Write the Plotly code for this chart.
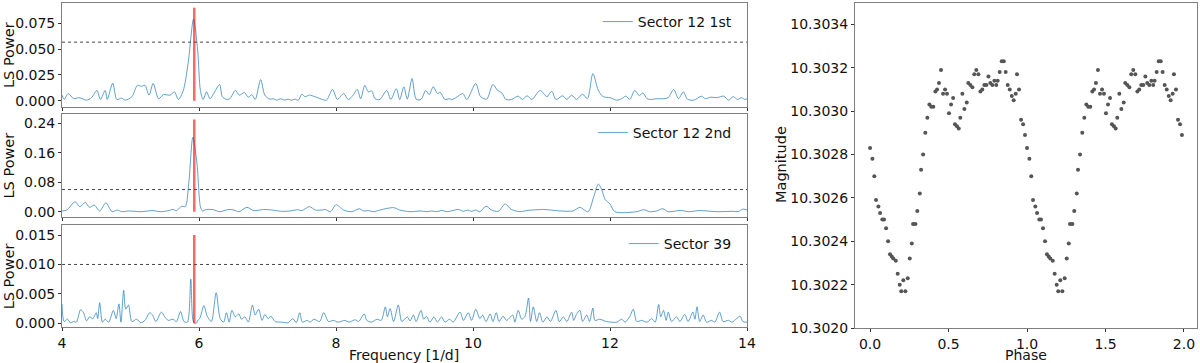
import plotly.graph_objects as go

# periodogram peaks/troughs: (frequency [1/d], LS power)
s12_1st = [
    (4.00, 0.0055), (4.03, 0.0013), (4.09, 0.007), (4.17, 0.002), (4.24, 0.003), (4.30, 0.002),
    (4.36, 0.0006), (4.43, 0.003), (4.51, 0.010), (4.56, 0.0013), (4.63, 0.010), (4.66, 0.0013),
    (4.74, 0.017), (4.80, 0.0013), (4.87, 0.0026), (4.92, 0.0006), (5.02, 0.004), (5.10, 0.015),
    (5.16, 0.014), (5.21, 0.015), (5.27, 0.0055), (5.33, 0.0167), (5.41, 0.002), (5.48, 0.006),
    (5.58, 0.0055), (5.64, 0.0087), (5.70, 0.0013), (5.77, 0.010), (5.84, 0.036), (5.92, 0.079),
    (5.98, 0.049), (6.02, 0.010), (6.06, 0.0013), (6.11, 0.0087), (6.16, 0.002), (6.22, 0.0077),
    (6.30, 0.0157), (6.34, 0.004), (6.40, 0.0013), (6.45, 0.002), (6.53, 0.010), (6.59, 0.0055),
    (6.66, 0.008), (6.72, 0.0035), (6.77, 0.006), (6.82, 0.0013), (6.90, 0.0205), (6.96, 0.0055),
    (7.03, 0.0016), (7.09, 0.002), (7.13, 0.0006), (7.19, 0.002), (7.25, 0.0006), (7.30, 0.0016),
    (7.35, 0.0006), (7.40, 0.0016), (7.45, 0.0006), (7.50, 0.0064), (7.55, 0.004), (7.61, 0.0055),
    (7.69, 0.004), (7.79, 0.0016), (7.86, 0.0006), (7.95, 0.011), (8.02, 0.0013), (8.11, 0.007),
    (8.18, 0.0013), (8.25, 0.0055), (8.31, 0.011), (8.36, 0.002), (8.42, 0.015), (8.47, 0.0087),
    (8.52, 0.0096), (8.57, 0.002), (8.64, 0.0013), (8.74, 0.010), (8.80, 0.0013), (8.88, 0.0116),
    (8.93, 0.0013), (8.99, 0.0135), (9.04, 0.0016), (9.11, 0.0215), (9.17, 0.0016), (9.24, 0.0013),
    (9.31, 0.010), (9.36, 0.006), (9.42, 0.0135), (9.48, 0.007), (9.52, 0.0083), (9.59, 0.0013),
    (9.65, 0.002), (9.70, 0.0013), (9.75, 0.003), (9.85, 0.007), (9.91, 0.0013), (10.04, 0.0167),
    (10.11, 0.004), (10.20, 0.0016), (10.29, 0.0157), (10.36, 0.010), (10.42, 0.0077), (10.48, 0.0013),
    (10.56, 0.0013), (10.66, 0.0045), (10.72, 0.0013), (10.79, 0.0048), (10.86, 0.0013), (10.98, 0.010),
    (11.08, 0.004), (11.15, 0.0093), (11.21, 0.0013), (11.31, 0.0048), (11.37, 0.0013), (11.44, 0.0055),
    (11.51, 0.0013), (11.60, 0.0064), (11.67, 0.002), (11.75, 0.0263), (11.83, 0.010), (11.90, 0.004),
    (12.00, 0.003), (12.10, 0.0006), (12.17, 0.002), (12.23, 0.0045), (12.29, 0.0013), (12.36, 0.010),
    (12.43, 0.005), (12.48, 0.0077), (12.54, 0.002), (12.59, 0.0013), (12.68, 0.002), (12.78, 0.002),
    (12.85, 0.003), (12.93, 0.011), (13.00, 0.002), (13.07, 0.0087), (13.13, 0.0016), (13.22, 0.0006),
    (13.34, 0.0045), (13.39, 0.002), (13.47, 0.0035), (13.56, 0.003), (13.66, 0.0045), (13.73, 0.0006),
    (13.80, 0.004), (13.86, 0.0013), (13.92, 0.003), (13.97, 0.0013), (14.00, 0.002),
]

s12_2nd = [
    (4.00, 0.002), (4.07, 0.0045), (4.19, 0.027), (4.26, 0.0136), (4.34, 0.025), (4.40, 0.0118),
    (4.47, 0.018), (4.55, 0.002), (4.64, 0.024), (4.73, 0.0), (4.81, 0.0045), (4.87, 0.0),
    (4.97, 0.002), (5.14, 0.0), (5.33, 0.003), (5.43, 0.0), (5.53, 0.002), (5.62, 0.006),
    (5.67, 0.003), (5.75, 0.015), (5.80, 0.0136), (5.85, 0.077), (5.91, 0.202), (5.97, 0.131),
    (6.02, 0.0136), (6.05, 0.002), (6.11, 0.006), (6.21, 0.0054), (6.30, 0.0), (6.43, 0.006),
    (6.51, 0.0045), (6.58, 0.0), (6.70, 0.0118), (6.80, 0.003), (6.94, 0.006), (7.07, 0.0045),
    (7.19, 0.001), (7.33, 0.002), (7.44, 0.0054), (7.50, 0.003), (7.61, 0.0136), (7.70, 0.0045),
    (7.79, 0.0045), (7.84, 0.006), (7.92, 0.0), (8.00, 0.019), (8.11, 0.0045), (8.23, 0.0),
    (8.34, 0.008), (8.40, 0.002), (8.47, 0.003), (8.55, 0.0), (8.64, 0.0045), (8.84, 0.011),
    (8.93, 0.0045), (9.08, 0.0), (9.23, 0.002), (9.32, 0.0), (9.40, 0.002), (9.47, 0.0),
    (9.54, 0.0036), (9.62, 0.0), (9.79, 0.006), (9.86, 0.001), (9.92, 0.0045), (9.98, 0.001),
    (10.04, 0.0045), (10.10, 0.0), (10.19, 0.015), (10.27, 0.0045), (10.37, 0.001), (10.47, 0.021),
    (10.56, 0.006), (10.69, 0.0), (10.78, 0.003), (11.03, 0.006), (11.27, 0.002), (11.46, 0.002),
    (11.56, 0.0118), (11.68, 0.0), (11.76, 0.039), (11.83, 0.075), (11.88, 0.059), (11.93, 0.033),
    (12.00, 0.021), (12.07, 0.0), (12.39, 0.0), (12.49, 0.0054), (12.58, 0.0), (12.68, 0.002),
    (12.77, 0.008), (12.85, 0.0), (13.04, 0.0036), (13.14, 0.0), (13.31, 0.003), (13.56, 0.0),
    (13.80, 0.001), (13.87, 0.0), (13.94, 0.007), (14.00, 0.0045),
]

s39 = [
    (4.00, 0.0033), (4.03, 0.0003), (4.08, 0.0007), (4.12, 0.0001), (4.17, 0.0003), (4.21, 0.0002),
    (4.27, 0.0023), (4.31, 0.0019), (4.36, 0.0004), (4.40, 0.0011), (4.45, 0.0008), (4.50, 0.0018),
    (4.52, 0.0008), (4.55, 0.0035), (4.59, 0.0002), (4.63, 0.0007), (4.68, 0.0002), (4.75, 0.0022),
    (4.79, 0.0008), (4.83, 0.0033), (4.86, 0.0002), (4.90, 0.0056), (4.93, 0.0024), (4.97, 0.0031),
    (5.02, 0.0003), (5.09, 0.0007), (5.15, 0.0001), (5.21, 0.0005), (5.28, 0.0018), (5.32, 0.0014),
    (5.37, 0.0003), (5.45, 0.0019), (5.50, 0.0011), (5.55, 0.0005), (5.62, 0.0007), (5.67, 0.0003),
    (5.73, 0.002), (5.78, 0.0003), (5.83, 0.0002), (5.88, 0.0075), (5.92, 0.0002), (5.96, 0.0),
    (5.98, 0.0005), (6.01, 0.0008), (6.07, 0.003), (6.12, 0.0012), (6.18, 0.0003), (6.25, 0.0052),
    (6.31, 0.0008), (6.36, 0.0002), (6.40, 0.0018), (6.44, 0.0002), (6.48, 0.0022), (6.53, 0.0011),
    (6.58, 0.0016), (6.62, 0.0007), (6.67, 0.0011), (6.72, 0.0002), (6.78, 0.0031), (6.82, 0.0014),
    (6.87, 0.0024), (6.92, 0.0005), (6.96, 0.0015), (7.01, 0.0008), (7.05, 0.0012), (7.11, 0.0003),
    (7.21, 0.0002), (7.30, 0.0001), (7.37, 0.0008), (7.42, 0.0001), (7.47, 0.0018), (7.51, 0.0002),
    (7.58, 0.0005), (7.62, 0.0002), (7.68, 0.0007), (7.76, 0.0003), (7.82, 0.0018), (7.89, 0.0003),
    (7.96, 0.0005), (8.03, 0.0002), (8.13, 0.0005), (8.19, 0.0002), (8.28, 0.0006), (8.33, 0.0003),
    (8.41, 0.0016), (8.45, 0.0005), (8.52, 0.0002), (8.60, 0.0007), (8.66, 0.0005), (8.72, 0.0028),
    (8.75, 0.0011), (8.79, 0.0025), (8.84, 0.0003), (8.91, 0.0031), (8.96, 0.0003), (9.04, 0.0011),
    (9.08, 0.0004), (9.13, 0.0014), (9.17, 0.0003), (9.24, 0.0022), (9.28, 0.0007), (9.32, 0.0012),
    (9.37, 0.0002), (9.43, 0.0011), (9.48, 0.0002), (9.54, 0.0011), (9.59, 0.0002), (9.66, 0.0007),
    (9.71, 0.0002), (9.81, 0.0019), (9.86, 0.0005), (9.93, 0.0018), (9.98, 0.0005), (10.04, 0.0024),
    (10.10, 0.0008), (10.14, 0.0014), (10.19, 0.0003), (10.25, 0.0016), (10.29, 0.0003), (10.34, 0.0018),
    (10.38, 0.0003), (10.44, 0.0012), (10.49, 0.0005), (10.58, 0.0014), (10.61, 0.0002), (10.66, 0.0022),
    (10.71, 0.0007), (10.76, 0.0012), (10.81, 0.0043), (10.84, 0.0003), (10.88, 0.0028), (10.93, 0.0003),
    (10.97, 0.0018), (11.02, 0.0002), (11.08, 0.0011), (11.13, 0.0003), (11.21, 0.0022), (11.26, 0.0003),
    (11.32, 0.0011), (11.37, 0.0003), (11.44, 0.0019), (11.47, 0.0005), (11.51, 0.0015), (11.56, 0.0022),
    (11.60, 0.0003), (11.66, 0.0014), (11.70, 0.0003), (11.75, 0.0026), (11.78, 0.0005), (11.85, 0.0007),
    (11.95, 0.0003), (12.10, 0.0002), (12.17, 0.0007), (12.22, 0.0002), (12.29, 0.0012), (12.34, 0.0024),
    (12.39, 0.0003), (12.46, 0.0005), (12.54, 0.0002), (12.61, 0.0008), (12.66, 0.0002), (12.71, 0.0032),
    (12.74, 0.0011), (12.78, 0.0022), (12.82, 0.0005), (12.85, 0.0019), (12.90, 0.0003), (12.97, 0.0011),
    (13.02, 0.0003), (13.09, 0.0015), (13.14, 0.0003), (13.21, 0.0019), (13.24, 0.0007), (13.27, 0.0028),
    (13.31, 0.0003), (13.36, 0.0014), (13.41, 0.0002), (13.48, 0.0005), (13.53, 0.0002), (13.60, 0.0019),
    (13.65, 0.0003), (13.73, 0.0005), (13.78, 0.0002), (13.85, 0.0008), (13.90, 0.0012), (13.94, 0.0003),
    (14.00, 0.0002),
]

sector_names = ["Sector 12 1st", "Sector 12 2nd", "Sector 39"]
fap_levels = [0.0567, 0.060, 0.010]
best_freq = 5.93
marker_tops = [0.090, 0.250, 0.015]

# folded light curve, one cycle (phase, magnitude); drawn twice
phase_mag = [
    (0.000, 10.30283), (0.015, 10.30278), (0.027, 10.30270), (0.038, 10.30259), (0.053, 10.30256),
    (0.064, 10.30253), (0.078, 10.30250), (0.089, 10.30250), (0.102, 10.30246), (0.115, 10.30240),
    (0.127, 10.30234), (0.138, 10.30233), (0.148, 10.30232), (0.164, 10.30231), (0.176, 10.30225),
    (0.189, 10.30220), (0.199, 10.30217), (0.212, 10.30222), (0.225, 10.30217), (0.240, 10.30223),
    (0.253, 10.30232), (0.266, 10.30239), (0.274, 10.30248), (0.289, 10.30248), (0.301, 10.30254),
    (0.317, 10.30262), (0.325, 10.30273), (0.338, 10.30280), (0.352, 10.30290), (0.365, 10.30297),
    (0.378, 10.30303), (0.390, 10.30302), (0.403, 10.30302), (0.416, 10.30309), (0.427, 10.30310),
    (0.439, 10.30313), (0.452, 10.30319), (0.465, 10.30308), (0.478, 10.30310), (0.490, 10.30308),
    (0.503, 10.30299), (0.516, 10.30303), (0.529, 10.30306), (0.541, 10.30294), (0.554, 10.30293),
    (0.565, 10.30292), (0.575, 10.30297), (0.588, 10.30308), (0.601, 10.30301), (0.616, 10.30304),
    (0.626, 10.30313), (0.639, 10.30312), (0.652, 10.30311), (0.664, 10.30317), (0.677, 10.30319),
    (0.690, 10.30317), (0.703, 10.30309), (0.715, 10.30310), (0.728, 10.30312), (0.741, 10.30312),
    (0.754, 10.30316), (0.766, 10.30313), (0.779, 10.30312), (0.792, 10.30314), (0.804, 10.30312),
    (0.813, 10.30314), (0.826, 10.30318), (0.839, 10.30323), (0.852, 10.30323), (0.864, 10.30318),
    (0.877, 10.30312), (0.890, 10.30310), (0.903, 10.30307), (0.915, 10.30305), (0.928, 10.30308),
    (0.936, 10.30317), (0.949, 10.30310), (0.962, 10.30296), (0.975, 10.30294), (0.987, 10.30289),
]

FONT = "DejaVu Sans"
BLUE = "rgba(31,119,180,0.7)"
AXCOL = "#7f7f7f"
W, H = 1200, 363

fig = go.Figure()

panels = [s12_1st, s12_2nd, s39]
ydomains = [[0.7052, 0.9917], [0.4022, 0.6860], [0.0983, 0.3793]]
yranges = [[-0.006, 0.0945], [-0.0144, 0.265], [-0.00068, 0.01665]]
ytick_vals = [[0, 0.025, 0.05, 0.075], [0, 0.08, 0.16, 0.24], [0, 0.005, 0.010, 0.015]]
ytick_fmt = ["{:.3f}", "{:.2f}", "{:.3f}"]
legend_y = [1 - 22 / H, 1 - 133 / H, 1 - 244 / H]
legend_names = ["legend", "legend2", "legend3"]

axis_common = dict(ticks="outside", ticklen=3, tickcolor="#333", automargin=False,
                   showline=True, linecolor=AXCOL, mirror=True, showgrid=False, zeroline=False)

for i, pts in enumerate(panels):
    n = "" if i == 0 else str(i + 1)
    xr, yr = "x" + n, "y" + n
    fx = [p[0] for p in pts]
    pw = [p[1] for p in pts]
    fig.add_trace(go.Scatter(x=fx, y=pw, mode="lines", name=sector_names[i],
                             line=dict(color=BLUE, width=1, shape="spline", smoothing=0.8),
                             xaxis=xr, yaxis=yr, legend=legend_names[i]))
    fig.add_trace(go.Scatter(x=[4, 14], y=[fap_levels[i]] * 2, mode="lines", showlegend=False,
                             line=dict(color="#444", width=1, dash="dot"), xaxis=xr, yaxis=yr))
    fig.add_trace(go.Scatter(x=[best_freq, best_freq], y=[0, marker_tops[i]], mode="lines",
                             showlegend=False, line=dict(color="rgba(255,0,0,0.6)", width=2.5),
                             xaxis=xr, yaxis=yr))

    fig.layout["xaxis" + n] = dict(
        domain=[0.0517, 0.6225], range=[4, 14], anchor=yr,
        tickvals=[4, 6, 8, 10, 12, 14], showticklabels=(i == 2), **axis_common,
    )
    fig.layout["yaxis" + n] = dict(
        domain=ydomains[i], range=yranges[i], anchor=xr,
        tickvals=ytick_vals[i], ticktext=[ytick_fmt[i].format(v) for v in ytick_vals[i]],
        **axis_common,
    )
    fig.layout[legend_names[i]] = dict(
        x=0.614, xanchor="right", y=legend_y[i], yanchor="middle",
        bgcolor="rgba(0,0,0,0)", font=dict(family=FONT, size=14, color="#111"),
        itemwidth=30,
    )
    # "LS Power" label, centred on the panel
    fig.add_annotation(text="LS Power", textangle=-90, showarrow=False,
                       xref="paper", yref="paper", x=9 / W, y=sum(ydomains[i]) / 2,
                       xanchor="center", yanchor="middle", font=dict(size=14.5))

ph = [p[0] for p in phase_mag]
mg = [p[1] for p in phase_mag]
fig.add_trace(go.Scatter(x=ph + [p + 1 for p in ph], y=mg + mg, mode="markers", showlegend=False,
                         marker=dict(color="#555555", size=4), xaxis="x4", yaxis="y4"))

mag_ticks = [10.3020, 10.3022, 10.3024, 10.3026, 10.3028, 10.3030, 10.3032, 10.3034]
fig.layout["xaxis4"] = dict(
    domain=[0.7125, 0.9975], range=[-0.096, 2.083], anchor="y4",
    tickvals=[0, 0.5, 1.0, 1.5, 2.0], ticktext=["0.0", "0.5", "1.0", "1.5", "2.0"],
    **axis_common,
)
fig.layout["yaxis4"] = dict(
    domain=[0.0964, 0.9926], range=[10.3020, 10.30350], anchor="x4",
    tickvals=mag_ticks, ticktext=["{:.4f}".format(v) for v in mag_ticks],
    **axis_common,
)

fig.add_annotation(text="Frequency [1/d]", showarrow=False, xref="paper", yref="paper",
                   x=404 / W, y=1 - 355 / H, xanchor="center", yanchor="middle", font=dict(size=14))
fig.add_annotation(text="Phase", showarrow=False, xref="paper", yref="paper",
                   x=1026 / W, y=1 - 355 / H, xanchor="center", yanchor="middle", font=dict(size=14))
fig.add_annotation(text="Magnitude", textangle=-90, showarrow=False, xref="paper", yref="paper",
                   x=781 / W, y=1 - 165 / H, xanchor="center", yanchor="middle", font=dict(size=14.5))

fig.update_layout(
    width=W, height=H,
    margin=dict(l=0, r=0, t=0, b=0),
    paper_bgcolor="white", plot_bgcolor="white",
    font=dict(family=FONT, size=14, color="#111"),
)

# drop the browser's default 8px page margin so the 1200x363 figure fills the window
fig.write_html("out.html", config={"displayModeBar": False},
               post_script="document.body.style.margin='0';")
